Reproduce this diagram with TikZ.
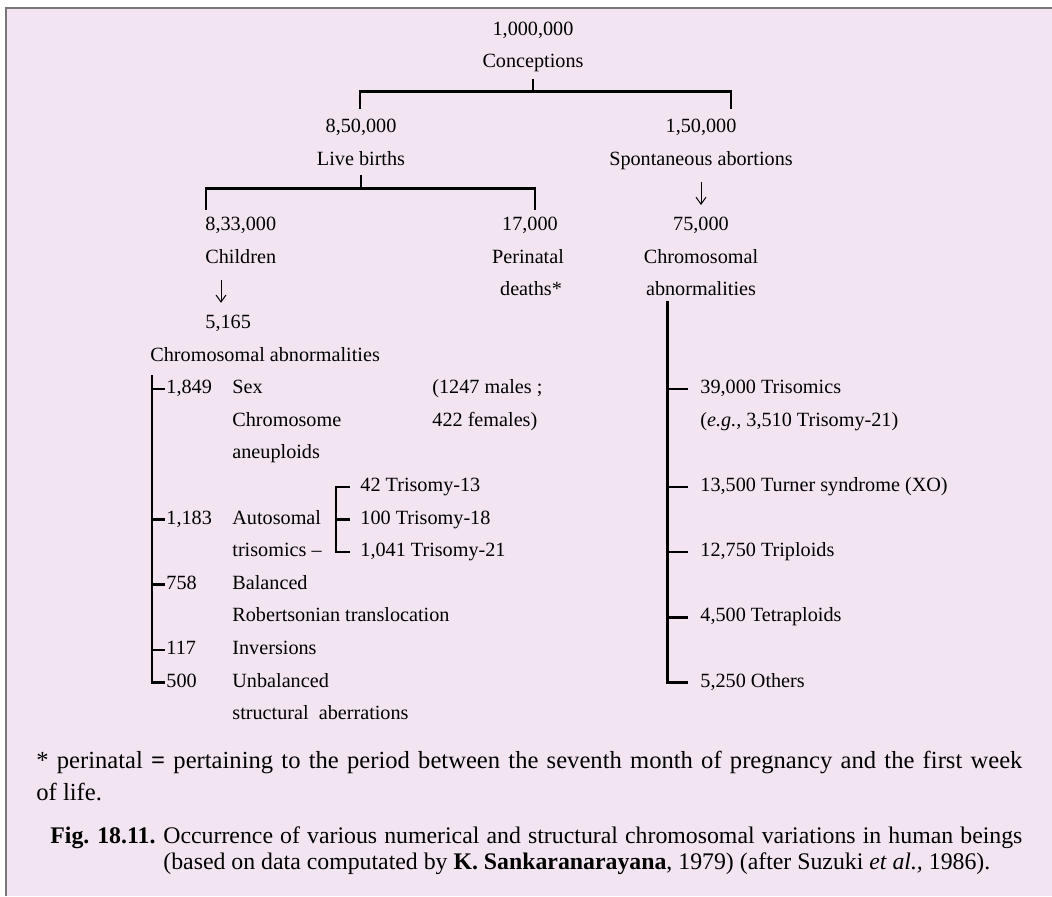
\documentclass[tikz,border=0pt]{standalone}
\usepackage{fontspec}
\setmainfont{Liberation Serif}
\usepackage{tikz}
\usetikzlibrary{arrows.meta}

\definecolor{paper}{HTML}{F2E4F1}
\definecolor{framegray}{HTML}{777777}

\begin{document}
\begin{tikzpicture}[
  x=0.5pt, y=-0.5pt,
  font=\fontsize{10.1pt}{16.3pt}\selectfont,
  txt/.style={inner sep=0pt, text height=7.1pt, text depth=2.5pt},
  ctr/.style={txt, anchor=base},
  lft/.style={txt, anchor=base west},
  bar/.style={line width=1.3pt},
  down/.style={-{Straight Barb[length=3.5pt,width=5pt]}, line width=0.5pt,
    shorten <=5.5pt, shorten >=5.5pt},
  para/.style={inner sep=0pt, anchor=base west, align=justify}
]
\useasboundingbox (0,0) rectangle (1052,896);
\fill[paper] (6,8) rectangle (1052,896);
\draw[framegray, line width=1pt] (6,896) -- (6,8) -- (1052,8);

% top of the tree
\node[ctr] (n1m) at (533,35) {1,000,000};
\node[ctr] (conc) at (533,67.6) {Conceptions};
\node[ctr] (n850) at (361,132.8) {8,50,000};
\node[ctr] (live) at (361,165.4) {Live births};
\node[ctr] (n150) at (701,132.8) {1,50,000};
\node[ctr] (spont) at (701,165.4) {Spontaneous abortions};

% second level
\node[lft] (n833) at (205,230.6) {8,33,000};
\node[lft] (child) at (205,263.2) {Children};
\node[lft] (n5165) at (205,328.4) {5,165};
\node[lft] (chrab) at (150,361) {Chromosomal abnormalities};
\node[ctr] (n17k) at (530,230.6) {17,000};
\node[ctr] (peri) at (528,263.2) {Perinatal};
\node[ctr] (death) at (531,295.8) {deaths*};
\node[ctr] (n75k) at (701,230.6) {75,000};
\node[ctr] (chrom) at (701,263.2) {Chromosomal};
\node[ctr] (abn) at (701,295.8) {abnormalities};

% children list
\node[lft] (n1849) at (166,393.6) {1,849};
\node[lft] (sex) at (232,393.6) {Sex};
\node[lft] (males) at (432,393.6) {(1247 males ;};
\node[lft] (sexb) at (232,426.2) {Chromosome};
\node[lft] (fem) at (432,426.2) {422 females)};
\node[lft] (sexc) at (232,458.8) {aneuploids};
\node[lft] (t13) at (360,491.4) {42 Trisomy-13};
\node[lft] (n1183) at (166,524) {1,183};
\node[lft] (auto) at (232,524) {Autosomal};
\node[lft] (t18) at (360,524) {100 Trisomy-18};
\node[lft] (autob) at (232,556.6) {trisomics –};
\node[lft] (t21) at (360,556.6) {1,041 Trisomy-21};
\node[lft] (n758) at (166,589.2) {758};
\node[lft] (bal) at (232,589.2) {Balanced};
\node[lft] (balb) at (232,621.8) {Robertsonian translocation};
\node[lft] (n117) at (166,654.4) {117};
\node[lft] (inv) at (232,654.4) {Inversions};
\node[lft] (n500) at (166,687) {500};
\node[lft] (unbal) at (232,687) {Unbalanced};
\node[lft] (unbalb) at (232,719.6) {structural\ \ aberrations};

% abortion list
\node[lft] (r39) at (700,393.6) {39,000 Trisomics};
\node[lft] (r39b) at (700,426.2) {(\textit{e.g.,} 3,510 Trisomy-21)};
\node[lft] (r135) at (700,491.4) {13,500 Turner syndrome (XO)};
\node[lft] (r127) at (700,556.6) {12,750 Triploids};
\node[lft] (r45) at (700,621.8) {4,500 Tetraploids};
\node[lft] (r525) at (700,687) {5,250 Others};

% brackets
\draw[bar] ([yshift=-3.2pt]conc.south) -- ++(0,12) coordinate (j1);
\draw[bar] ([xshift=-0.5pt,yshift=4.8pt]n850.north) |- (j1) -| ([xshift=15pt,yshift=4.8pt]n150.north);
\draw[bar] ([yshift=-2.3pt]live.south) -- ++(0,13) coordinate (j2);
\draw[bar] ([xshift=0.5pt,yshift=3.2pt]n833.north west) |- (j2) -| ([xshift=2.5pt,yshift=3.2pt]n17k.north);

\draw[down] (spont) -- (n75k);
\draw[down] ([xshift=8pt]child.south west) -- ([xshift=8pt]n5165.north west);

\coordinate (ltop) at ([xshift=1pt,yshift=-4.5pt]chrab.south west);
\draw[bar] (ltop) |- ([xshift=-0.5pt]n500.west);
\draw[bar] (ltop |- n1849.west) -- ([xshift=-0.5pt]n1849.west);
\draw[bar] (ltop |- n1183.west) -- ([xshift=-0.5pt]n1183.west);
\draw[bar] (ltop |- n758.west) -- ([xshift=-0.5pt]n758.west);
\draw[bar] (ltop |- n117.west) -- ([xshift=-0.5pt]n117.west);

\draw[bar] ([xshift=-5pt]t13.west) -- ([xshift=-12pt]t13.west) |- ([xshift=-5pt]t21.west);
\draw[bar] ([xshift=-12pt]t18.west) -- ([xshift=-5pt]t18.west);

\coordinate (rtop) at ([xshift=11pt]abn.south west);
\draw[bar] (rtop) |- ([xshift=-6pt]r525.west);
\draw[bar] (rtop |- r39.west) -- ([xshift=-6pt]r39.west);
\draw[bar] (rtop |- r135.west) -- ([xshift=-6pt]r135.west);
\draw[bar] (rtop |- r127.west) -- ([xshift=-6pt]r127.west);
\draw[bar] (rtop |- r45.west) -- ([xshift=-6pt]r45.west);

% footnote and caption
\node[para, text width=493pt, font=\fontsize{12.3pt}{16pt}\selectfont] (foot) at (36,768)
  {* perinatal \textbf{=} pertaining to the period between the seventh month of pregnancy and the first week\linebreak of life.};
\node[para, font=\fontsize{11.9pt}{13pt}\selectfont\bfseries] (figno) at (50,843) {Fig. 18.11.};
\node[para, text width=429.5pt, font=\fontsize{11.9pt}{13pt}\selectfont] (capt) at (163,843)
  {Occurrence of various numerical and structural chromosomal variations in human beings\linebreak (based on data computated by \textbf{K. Sankaranarayana}, 1979) (after Suzuki \textit{et al.,} 1986).};
\end{tikzpicture}
\end{document}
